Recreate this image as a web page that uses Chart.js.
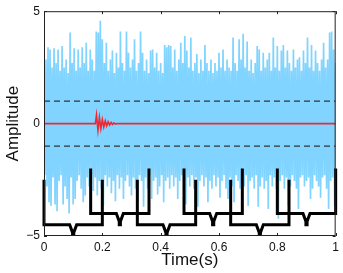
<!DOCTYPE html>
<html>
<head>
<meta charset="utf-8">
<script src="https://cdn.jsdelivr.net/npm/chart.js@4.4.1/dist/chart.umd.min.js"></script>
<style>
  body { margin: 0; background: #fff; }
  canvas { display: block; }
</style>
</head>
<body>
<canvas id="signalChart" width="343" height="273"></canvas>
<script>
// 축 눈금
const xTicks = [0, 0.2, 0.4, 0.6, 0.8, 1];
const yTicks = [-5, 0, 5];

// 잡음 신호 (윗/아랫 포락선, 그림에서 읽은 값)
const noiseUpper = [
  2.35, 2.85, 3.4, 3.3, 2.5, 3.35, 2.7, 3.3, 2.35, 3.45,
  2.5, 2.85, 2.25, 4.05, 2.7, 3.35, 2.35, 3.3, 2.5, 3.4,
  2.7, 3.6, 2.35, 3.3, 2.85, 2.35, 4.1, 4.05, 4.57, 3.75,
  2.7, 3.6, 2.35, 2.85, 3.25, 2.25, 3.15, 2.5, 4.1, 2.7,
  2.35, 4.1, 3.15, 2.5, 2.85, 3.75, 2.35, 2.7, 4.1, 3.15,
  2.35, 2.85, 2.25, 3.25, 3.3, 2.5, 3.15, 2.35, 2.7, 2.25,
  3.5, 3.4, 3.5, 3.45, 2.5, 3.3, 2.35, 2.85, 3.6, 2.7,
  3.9, 3.25, 2.5, 3.83, 2.35, 2.7, 3.1, 2.25, 2.85, 2.35,
  3.5, 2.7, 2.35, 2.85, 2.25, 2.7, 2.35, 3.15, 2.5, 3.3,
  2.35, 2.85, 2.5, 2.35, 3.83, 2.7, 2.35, 3.75, 2.85, 4.0,
  2.5, 3.65, 2.35, 2.85, 2.25, 2.7, 3.45, 3.3, 2.35, 3.15,
  2.5, 2.85, 3.15, 2.35, 3.83, 2.5, 3.45, 2.35, 3.25, 3.5,
  2.5, 3.25, 2.7, 2.35, 3.3, 2.5, 2.85, 2.95, 2.35, 3.25,
  2.7, 3.83, 2.5, 3.5, 2.35, 3.25, 2.7, 2.35, 2.85, 3.6,
  2.5, 2.85, 4.05, 4.1, 3.3, 2.7
];
const noiseLower = [
  -2.3, -2.8, -3.5, -3.65, -2.4, -3.6, -3.9, -2.55, -2.3, -3.6,
  -2.8, -3.35, -4.0, -2.4, -3.6, -3.35, -2.55, -2.3, -2.9, -3.5,
  -3.2, -2.4, -2.8, -2.3, -3.0, -2.4, -3.2, -2.55, -2.9, -3.66,
  -2.3, -2.8, -2.4, -3.1, -2.55, -3.45, -2.3, -2.9, -2.4, -3.35,
  -2.55, -2.3, -2.8, -3.2, -2.4, -2.9, -3.5, -2.3, -2.55, -3.7,
  -2.4, -2.9, -2.3, -3.35, -2.55, -2.4, -3.15, -2.8, -2.3, -3.5,
  -2.55, -2.4, -2.9, -2.3, -2.8, -2.4, -3.35, -2.55, -2.3, -2.9,
  -3.6, -2.4, -2.8, -2.3, -2.9, -2.4, -3.7, -2.55, -2.3, -2.8,
  -2.4, -3.5, -2.55, -2.9, -2.3, -2.8, -2.4, -3.3, -2.55, -2.3,
  -2.9, -3.35, -2.4, -2.8, -3.5, -2.3, -2.55, -2.9, -2.4, -2.8,
  -2.3, -3.66, -2.55, -2.4, -2.9, -2.3, -3.7, -2.8, -2.4, -2.9,
  -2.55, -3.8, -2.3, -2.8, -2.4, -2.9, -4.23, -2.55, -2.3, -2.9,
  -2.4, -3.66, -2.8, -2.3, -2.55, -2.9, -3.8, -2.4, -2.3, -2.8,
  -2.55, -2.4, -3.35, -2.9, -2.3, -2.55, -2.8, -3.3, -2.4, -2.3,
  -2.9, -3.8, -2.55, -2.4, -3.7, -2.4
];
const noiseStep = 1 / (noiseUpper.length - 1);

// 임계선 (점선)
const thresholdTime = [0, 1];
const thresholdUpper = [1, 1];
const thresholdLower = [-1, -1];

// 검출 신호 (빨간색 감쇠 진동)
const pulseTime = [0, 0.176, 0.18, 0.185, 0.19, 0.195, 0.2, 0.205, 0.21, 0.215,
  0.22, 0.225, 0.23, 0.235, 0.24, 0.245, 0.25, 1];
const pulseValue = [0, 0, 0.38, -0.3, 0.27, -0.22, 0.18, -0.15, 0.12, -0.1,
  0.08, -0.06, 0.05, -0.04, 0.03, -0.02, 0, 0];

// 창 신호 A (-4.5 기준, 위로 -2.5)
const gateATime = [
  0, 0, 0.088, 0.098, 0.098, 0.102, 0.102, 0.112, 0.2, 0.2, null,
  0.32, 0.32, 0.408, 0.418, 0.418, 0.422, 0.422, 0.432, 0.52, 0.52, null,
  0.64, 0.64, 0.728, 0.738, 0.738, 0.742, 0.742, 0.752, 0.84, 0.84
];
const gateAValue = [
  -2.5, -4.5, -4.5, -4.85, -5.05, -5.05, -4.85, -4.5, -4.5, -2.5, null,
  -2.5, -4.5, -4.5, -4.85, -5.05, -5.05, -4.85, -4.5, -4.5, -2.5, null,
  -2.5, -4.5, -4.5, -4.85, -5.05, -5.05, -4.85, -4.5, -4.5, -2.5
];

// 창 신호 B (-4 기준, 위로 -2)
const gateBTime = [
  0.16, 0.16, 0.248, 0.258, 0.258, 0.262, 0.262, 0.272, 0.36, 0.36, null,
  0.48, 0.48, 0.568, 0.578, 0.578, 0.582, 0.582, 0.592, 0.68, 0.68, null,
  0.8, 0.8, 0.888, 0.898, 0.898, 0.902, 0.902, 0.912, 1, 1
];
const gateBValue = [
  -2, -4, -4, -4.35, -4.5, -4.5, -4.35, -4, -4, -2, null,
  -2, -4, -4, -4.35, -4.5, -4.5, -4.35, -4, -4, -2, null,
  -2, -4, -4, -4.35, -4.5, -4.5, -4.35, -4, -4, -2
];

function toPoints(xs, ys) {
    return xs.map((x, i) => ({ x: x, y: ys[i] }));
}

// 잡음: 위/아래 값을 번갈아 찍어 촘촘한 톱니 선으로 그림
function noisePoints() {
    const pts = [];
    noiseUpper.forEach((hi, i) => {
        const t = i * noiseStep;
        pts.push({ x: t, y: hi });
        pts.push({ x: Math.min(1, t + noiseStep / 2), y: noiseLower[i] });
    });
    return pts;
}

// 테두리 + 안쪽 눈금
const boxPlugin = {
    id: 'box',
    afterDatasetsDraw(chart) {
        const { ctx, chartArea: a, scales } = chart;
        ctx.save();
        ctx.strokeStyle = '#222';
        ctx.lineWidth = 1;
        ctx.strokeRect(a.left + 0.5, a.top + 0.5, a.right - a.left - 1, a.bottom - a.top - 1);
        xTicks.forEach(t => {
            const x = Math.round(scales.x.getPixelForValue(t)) + 0.5;
            ctx.beginPath();
            ctx.moveTo(x, a.bottom); ctx.lineTo(x, a.bottom - 3);
            ctx.moveTo(x, a.top); ctx.lineTo(x, a.top + 3);
            ctx.stroke();
        });
        yTicks.forEach(t => {
            if (t === 0) return; // 0 눈금은 빨간 선 위라 생략
            const y = Math.round(scales.y.getPixelForValue(t)) + 0.5;
            ctx.beginPath();
            ctx.moveTo(a.left, y); ctx.lineTo(a.left + 3, y);
            ctx.moveTo(a.right, y); ctx.lineTo(a.right - 3, y);
            ctx.stroke();
        });
        ctx.restore();
    }
};

const font = 'Liberation Sans, Arial, Helvetica, sans-serif';
const noiseColor = 'rgb(128, 212, 255)';

new Chart(document.getElementById('signalChart'), {
    type: 'line',
    data: {
        datasets: [{
            data: noisePoints(),
            borderColor: noiseColor,
            borderWidth: 1.7,
            borderJoinStyle: 'bevel',
            fill: false,
            pointRadius: 0,
            order: 10
        }, {
            data: toPoints(thresholdTime, thresholdUpper),
            borderColor: '#333',
            borderWidth: 1.2,
            borderDash: [6, 4],
            pointRadius: 0,
            order: 5
        }, {
            data: toPoints(thresholdTime, thresholdLower),
            borderColor: '#333',
            borderWidth: 1.2,
            borderDash: [6, 4],
            pointRadius: 0,
            order: 5
        }, {
            data: toPoints(pulseTime, pulseValue),
            borderColor: 'rgb(240, 40, 50)',
            borderWidth: 1.6,
            pointRadius: 0,
            order: 3
        }, {
            data: toPoints(gateATime, gateAValue),
            borderColor: '#000',
            borderWidth: 3,
            pointRadius: 0,
            spanGaps: false,
            clip: { left: 3, right: 3, top: 0, bottom: 0 },
            order: 1
        }, {
            data: toPoints(gateBTime, gateBValue),
            borderColor: '#000',
            borderWidth: 3,
            pointRadius: 0,
            spanGaps: false,
            clip: { left: 3, right: 3, top: 0, bottom: 0 },
            order: 1
        }]
    },
    options: {
        responsive: false,
        animation: false,
        layout: { padding: { top: 10, right: 7, left: 0, bottom: 0 } },
        plugins: {
            legend: { display: false },
            tooltip: { enabled: false }
        },
        elements: { line: { tension: 0 } },
        scales: {
            x: {
                type: 'linear',
                min: 0,
                max: 1,
                afterFit: s => { s.height = 37; },
                afterBuildTicks: s => { s.ticks = xTicks.map(v => ({ value: v })); },
                grid: { display: false, drawTicks: false },
                border: { display: false },
                ticks: {
                    autoSkip: false,
                    maxRotation: 0,
                    padding: 4,
                    color: '#111',
                    font: { family: font, size: 12 },
                    callback: v => String(+v.toFixed(1))
                },
                title: {
                    display: true,
                    text: 'Time(s)',
                    color: '#111',
                    padding: { top: 0, bottom: 2 },
                    font: { family: font, size: 17 }
                }
            },
            y: {
                min: -5,
                max: 5,
                afterFit: s => { s.width = 44; },
                afterBuildTicks: s => { s.ticks = yTicks.map(v => ({ value: v })); },
                grid: { display: false, drawTicks: false },
                border: { display: false },
                ticks: {
                    padding: 4,
                    color: '#111',
                    font: { family: font, size: 12 },
                    callback: v => v < 0 ? '\u2212' + Math.abs(v) : String(v)
                },
                title: {
                    display: true,
                    text: 'Amplitude',
                    color: '#111',
                    padding: { top: 3, bottom: 0 },
                    font: { family: font, size: 17 }
                }
            }
        }
    },
    plugins: [boxPlugin]
});
</script>
</body>
</html>
